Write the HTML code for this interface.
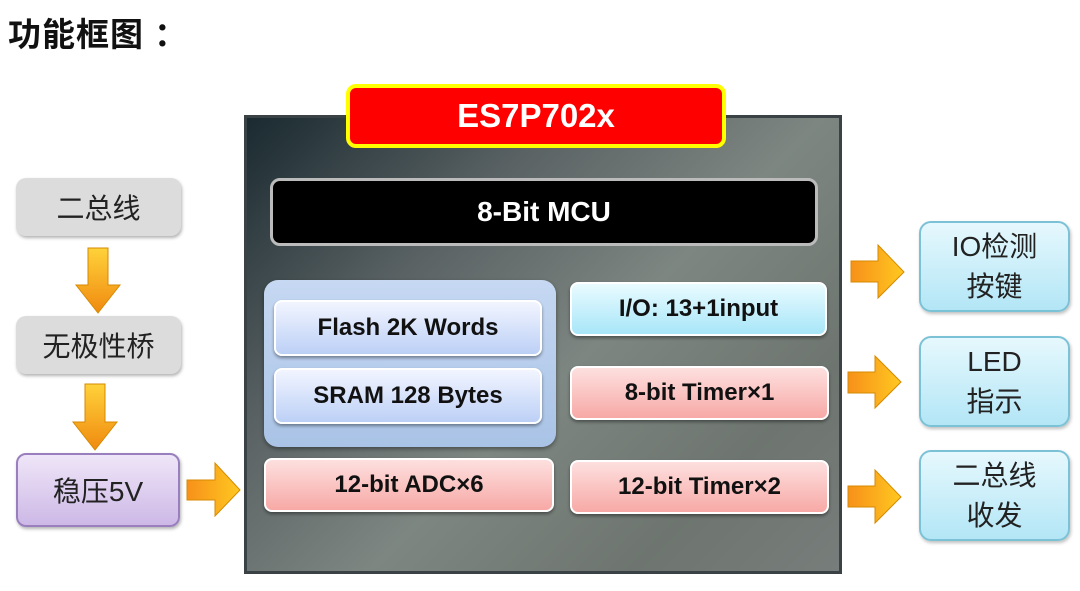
<!DOCTYPE html>
<html><head><meta charset="utf-8"><style>
*{margin:0;padding:0;box-sizing:border-box}
body{width:1080px;height:591px;background:#fff;position:relative;overflow:hidden;font-family:"Liberation Sans","Noto Sans CJK SC",sans-serif}
.a{position:absolute;display:flex;align-items:center;justify-content:center;text-align:center}
.t{font-weight:bold;font-size:24px;color:#111;border:2px solid #fff;border-radius:8px;box-shadow:0 2px 3px rgba(0,0,0,.4)}
.pink{background:linear-gradient(#fde0df,#f7a9a6)}
.blue{background:linear-gradient(#f2f5ff,#bcd0f6)}
.cyan{background:linear-gradient(#e9fbff,#a8e6f8)}
.lb{font-size:28px;color:#222;border-radius:10px;background:#dcdcdc;box-shadow:1px 2px 3px rgba(0,0,0,.3)}
.rb{font-size:28px;color:#222;line-height:40px;border-radius:12px;border:2px solid #7cc2d6;background:linear-gradient(#e6f8fd,#b3e6f6);box-shadow:1px 2px 3px rgba(0,0,0,.25)}
</style></head><body>
<div class="a" style="left:8px;top:8px;font-size:33px;font-weight:bold;color:#111;letter-spacing:1px">功能框图 ：</div>
<div style="position:absolute;left:244px;top:115px;width:598px;height:459px;border:3px solid #3b4246;background:linear-gradient(135deg,#1a2a30 0%,#5a6264 30%,#7d8681 55%,#6e7570 80%,#777d7a 100%)"></div>
<div class="a" style="left:346px;top:84px;width:380px;height:64px;background:#f00;border:4px solid #ff0;border-radius:10px;color:#fff;font-weight:bold;font-size:33px">ES7P702x</div>
<div class="a" style="left:270px;top:178px;width:548px;height:68px;background:#000;border:3px solid #bbb;border-radius:10px;color:#fff;font-weight:bold;font-size:28px">8-Bit MCU</div>
<div style="position:absolute;left:264px;top:280px;width:292px;height:167px;border-radius:14px;background:linear-gradient(#c6d8f2,#a9c3e6);box-shadow:0 2px 4px rgba(0,0,0,.4)"></div>
<div class="a t blue" style="left:274px;top:300px;width:268px;height:56px">Flash 2K Words</div>
<div class="a t blue" style="left:274px;top:368px;width:268px;height:56px">SRAM 128 Bytes</div>
<div class="a t cyan" style="left:570px;top:282px;width:257px;height:54px">I/O: 13+1input</div>
<div class="a t pink" style="left:570px;top:366px;width:259px;height:54px">8-bit Timer×1</div>
<div class="a t pink" style="left:264px;top:458px;width:290px;height:54px">12-bit ADC×6</div>
<div class="a t pink" style="left:570px;top:460px;width:259px;height:54px">12-bit Timer×2</div>
<div class="a lb" style="left:16px;top:178px;width:165px;height:58px">二总线</div>
<div class="a lb" style="left:16px;top:316px;width:165px;height:58px">无极性桥</div>
<div class="a lb" style="left:16px;top:453px;width:164px;height:74px;border:2px solid #9a7fbf;background:linear-gradient(#efe6f8,#cdb8e6)">稳压5V</div>
<svg width="1080" height="591" style="position:absolute;left:0;top:0">
<defs><linearGradient id="g" x1="0" y1="0" x2="0" y2="1"><stop offset="0" stop-color="#ffd23a"/><stop offset="1" stop-color="#f08a10"/></linearGradient>
<linearGradient id="h" x1="0" y1="0" x2="1" y2="0"><stop offset="0" stop-color="#f7901a"/><stop offset="1" stop-color="#ffc820"/></linearGradient></defs>
<g fill="url(#g)" stroke="#d58a00" stroke-width="1">
<polygon points="88,248 108,248 108,285 120,285 98,313 76,285 88,285"/>
<polygon points="85,384 105,384 105,422 117,422 95,450 73,422 85,422"/>
</g>
<g fill="url(#h)" stroke="#d58a00" stroke-width="1">
<polygon points="187,480 215,480 215,463 240,490 215,516 215,500 187,500"/>
<polygon points="851,261 878,261 878,245 904,272 878,298 878,282 851,282"/>
<polygon points="848,372 875,372 875,356 901,382 875,408 875,393 848,393"/>
<polygon points="848,486 875,486 875,470 901,497 875,523 875,507 848,507"/>
</g></svg>
<div class="a rb" style="left:919px;top:221px;width:151px;height:91px">IO检测<br>按键</div>
<div class="a rb" style="left:919px;top:336px;width:151px;height:91px">LED<br>指示</div>
<div class="a rb" style="left:919px;top:450px;width:151px;height:91px">二总线<br>收发</div>
</body></html>
